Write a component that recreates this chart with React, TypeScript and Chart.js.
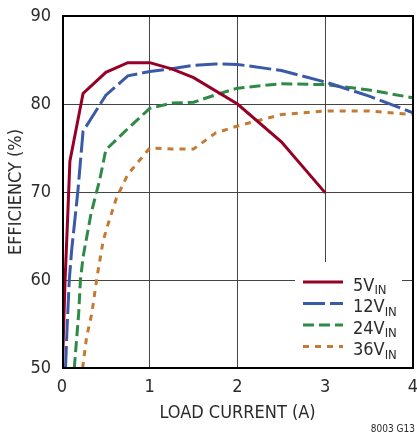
import React, { useEffect, useRef } from 'react';
import { Chart, registerables } from 'chart.js';

Chart.register(...registerables);

// ---- data ----
const xTickValues = [0, 1, 2, 3, 4];
const yTickValues = [50, 60, 70, 80, 90];
const seriesNames = ['5V', '12V', '24V', '36V'];
const seriesSub = ['IN', 'IN', 'IN', 'IN'];

const v5X = [0.005, 0.035, 0.06, 0.09, 0.24, 0.5, 0.75, 1.0, 1.25, 1.5, 2.0, 2.5, 3.0];
const v5Y = [50, 60, 66, 73.5, 81.2, 83.6, 84.7, 84.7, 84.0, 83.0, 80.0, 75.7, 69.9];

const v12X = [0.04, 0.06, 0.083, 0.11, 0.18, 0.24, 0.5, 0.75, 1.0, 1.25, 1.5, 1.75, 2.0, 2.5, 3.0, 3.5, 4.0];
const v12Y = [50, 55, 60, 63.4, 70, 76.9, 81.0, 83.2, 83.7, 84.0, 84.4, 84.55, 84.5, 83.8, 82.5, 80.9, 79.0];

const v24X = [0.14, 0.19, 0.21, 0.24, 0.33, 0.43, 0.5, 0.75, 1.0, 1.25, 1.5, 1.8, 2.0, 2.5, 3.0, 3.5, 4.0];
const v24Y = [50, 56.2, 60, 62.6, 67.5, 71.4, 74.8, 77.2, 79.5, 80.1, 80.2, 81.2, 81.8, 82.3, 82.2, 81.6, 80.7];

const v36X = [0.235, 0.28, 0.34, 0.4, 0.47, 0.53, 0.62, 0.75, 1.0, 1.25, 1.5, 1.75, 2.0, 2.5, 3.0, 3.5, 4.0];
const v36Y = [50, 53.5, 56.2, 60.4, 64.5, 66.5, 69.3, 72, 75, 74.9, 74.9, 76.7, 77.5, 78.8, 79.2, 79.2, 78.8];

const seriesX = [v5X, v12X, v24X, v36X];
const seriesY = [v5Y, v12Y, v24Y, v36Y];
const seriesColors = ['#960028', '#3a5aa8', '#2e8a46', '#c47a32'];
const seriesDash: number[][] = [[], [22, 5], [11, 5], [6, 6]];

const FONT = "'Liberation Sans Narrow', 'DejaVu Sans Condensed', 'Liberation Sans', Arial, sans-serif";
const TEXT = '#2b2b2b';

const framePlugin = {
  id: 'frameLegend',
  beforeDatasetsDraw(chart: any) {
    const { ctx, chartArea: a } = chart;
    ctx.save();
    ctx.fillStyle = '#ffffff';
    ctx.fillRect(a.right - 118, a.bottom - 106, 107, 106);
    ctx.restore();
  },
  afterDraw(chart: any) {
    const { ctx, chartArea: a } = chart;
    ctx.save();
    // frame
    ctx.strokeStyle = '#000';
    ctx.lineWidth = 2;
    ctx.strokeRect(a.left + 1, a.top, a.right - a.left - 1, a.bottom - a.top);
    // legend
    const lx0 = a.right - 110;
    const lx1 = a.right - 70;
    const tx = a.right - 60;
    let y = a.bottom - 86;
    for (let i = 0; i < seriesNames.length; i++) {
      ctx.beginPath();
      ctx.strokeStyle = seriesColors[i];
      ctx.lineWidth = 3;
      ctx.setLineDash(seriesDash[i]);
      ctx.moveTo(lx0, y);
      ctx.lineTo(lx1, y);
      ctx.stroke();
      ctx.setLineDash([]);
      ctx.fillStyle = TEXT;
      ctx.textBaseline = 'alphabetic';
      ctx.textAlign = 'left';
      ctx.font = `18px ${FONT}`;
      ctx.fillText(seriesNames[i], tx, y + 8.5);
      const w = ctx.measureText(seriesNames[i]).width;
      ctx.font = `13px ${FONT}`;
      ctx.fillText(seriesSub[i], tx + w, y + 12);
      y += 21.5;
    }
    // footnote
    ctx.font = `10px ${FONT}`;
    ctx.textAlign = 'right';
    ctx.fillStyle = TEXT;
    ctx.fillText('8003 G13', 415, 432);
    ctx.restore();
  },
};

export default function App() {
  const ref = useRef<HTMLCanvasElement | null>(null);
  useEffect(() => {
    if (!ref.current) return;
    const datasets = seriesNames.map((name, i) => ({
      label: name + seriesSub[i],
      data: seriesX[i].map((x, j) => ({ x, y: seriesY[i][j] })),
      borderColor: seriesColors[i],
      backgroundColor: seriesColors[i],
      borderWidth: 3,
      borderDash: seriesDash[i],
      pointRadius: 0,
      tension: 0,
      fill: false,
    }));
    const chart = new Chart(ref.current, {
      type: 'line',
      data: { datasets },
      options: {
        animation: false,
        responsive: false,
        maintainAspectRatio: false,
        layout: { padding: { left: 0, right: 4, top: 16, bottom: 0 } },
        plugins: { legend: { display: false }, tooltip: { enabled: false } },
        scales: {
          x: {
            type: 'linear',
            min: 0,
            max: 4,
            afterFit: (s: any) => { s.height = 68; s.paddingLeft = 0; s.paddingRight = 0; },
            afterBuildTicks: (s: any) => { s.ticks = xTickValues.map((v) => ({ value: v })); },
            grid: { color: '#444', lineWidth: 1, drawTicks: false },
            border: { display: false },
            ticks: { color: TEXT, font: { family: FONT, size: 18 }, padding: 9, maxRotation: 0 },
            title: { display: true, text: 'LOAD CURRENT (A)', color: TEXT, font: { family: FONT, size: 18 }, padding: { top: 0, bottom: 12 } },
          },
          y: {
            type: 'linear',
            min: 50,
            max: 90,
            afterFit: (s: any) => { s.width = 62; s.paddingTop = 0; s.paddingBottom = 0; },
            afterBuildTicks: (s: any) => { s.ticks = yTickValues.map((v) => ({ value: v })); },
            grid: { color: '#444', lineWidth: 1, drawTicks: false },
            border: { display: false },
            ticks: { color: TEXT, font: { family: FONT, size: 18 }, padding: 11 },
            title: { display: true, text: 'EFFICIENCY (%)', color: TEXT, font: { family: FONT, size: 18 }, padding: { top: 6, bottom: 0 } },
          },
        },
      },
      plugins: [framePlugin],
    });
    return () => chart.destroy();
  }, []);
  return (
    <div style={{ position: 'fixed', left: 0, top: 0, width: 417, height: 436, background: '#fff' }}>
      <canvas ref={ref} width={417} height={436} style={{ display: 'block' }} />
    </div>
  );
}
